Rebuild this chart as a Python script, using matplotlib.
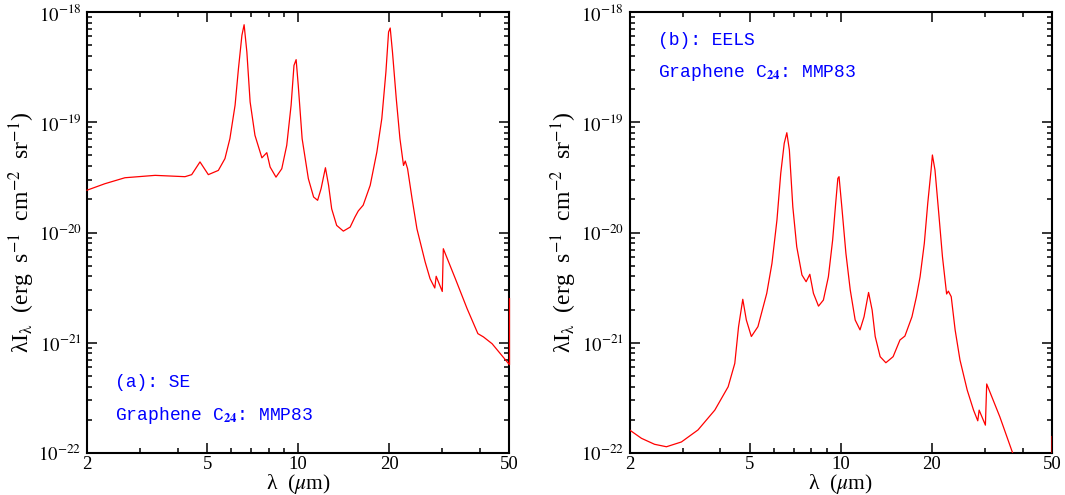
import numpy as np
import matplotlib as mpl
#headless mode
mpl.use('Agg')
import matplotlib.pyplot as plt
from matplotlib.ticker import FixedLocator, NullFormatter

plt.rcParams['mathtext.fontset'] = 'stix'
plt.rcParams['font.family'] = ['Liberation Serif', 'DejaVu Serif']

# panel (a): SE
lam_se = [2.00, 2.29, 2.67, 3.36, 4.22, 4.44, 4.73, 5.04, 5.44, 5.72,
          5.94, 6.18, 6.34, 6.51, 6.62, 6.76, 6.93, 7.19, 7.58, 7.87,
          8.07, 8.44, 8.82, 9.16, 9.47, 9.68, 9.84, 10.0, 10.3, 10.8,
          11.24, 11.59, 11.9, 12.3, 12.6, 12.9, 13.4, 14.1, 14.85, 15.4,
          15.8, 16.4, 17.3, 18.2, 18.9, 19.5, 19.9, 20.15, 20.5, 21.1,
          21.7, 22.3, 22.6, 23.0, 23.8, 24.7, 26.3, 27.3, 28.3, 28.6,
          29.96, 30.2, 33.1, 36.2, 39.3, 41.0, 43.8, 50.0, 50.0]
flux_se = [2.42e-20, 2.77e-20, 3.14e-20, 3.30e-20, 3.21e-20, 3.35e-20, 4.37e-20, 3.35e-20, 3.66e-20, 4.68e-20,
           7.10e-20, 1.43e-19, 3.06e-19, 6.15e-19, 7.67e-19, 4.34e-19, 1.53e-19, 7.62e-20, 4.76e-20, 5.30e-20,
           3.93e-20, 3.18e-20, 3.79e-20, 6.18e-20, 1.43e-19, 3.28e-19, 3.70e-19, 2.16e-19, 7.10e-20, 3.08e-20,
           2.10e-20, 1.96e-20, 2.50e-20, 3.87e-20, 2.68e-20, 1.64e-20, 1.16e-20, 1.03e-20, 1.12e-20, 1.38e-20,
           1.57e-20, 1.77e-20, 2.68e-20, 5.37e-20, 1.08e-19, 2.86e-19, 6.59e-19, 7.16e-19, 4.34e-19, 1.64e-19,
           7.10e-20, 4.06e-20, 4.45e-20, 3.79e-20, 2.03e-20, 1.08e-20, 5.40e-21, 3.81e-21, 3.14e-21, 4.01e-21,
           2.92e-21, 7.13e-21, 3.81e-21, 2.04e-21, 1.21e-21, 1.13e-21, 9.8e-22, 6.32e-22, 2.51e-21]

# panel (b): EELS
lam_eels = [2.00, 2.19, 2.42, 2.65, 2.97, 3.37, 3.83, 4.24, 4.46, 4.59,
            4.74, 4.87, 5.06, 5.32, 5.69, 5.92, 6.15, 6.33, 6.50, 6.63,
            6.76, 6.94, 7.15, 7.44, 7.68, 7.90, 8.12, 8.44, 8.76, 9.10,
            9.40, 9.62, 9.78, 9.87, 10.08, 10.4, 10.75, 11.16, 11.58, 11.94,
            12.36, 12.7, 13.0, 13.5, 14.1, 14.9, 15.7, 16.3, 17.2, 17.8,
            18.3, 18.9, 19.4, 19.9, 20.1, 20.5, 21.1, 21.7, 22.4, 22.7,
            23.2, 23.9, 24.8, 26.2, 27.5, 28.4, 28.7, 30.1, 30.4, 33.6,
            37.0, 40.0, 44.0, 50.0, 50.0]
flux_eels = [1.62e-22, 1.36e-22, 1.20e-22, 1.14e-22, 1.26e-22, 1.62e-22, 2.45e-22, 3.99e-22, 6.50e-22, 1.40e-21,
             2.48e-21, 1.61e-21, 1.14e-21, 1.40e-21, 2.81e-21, 5.25e-21, 1.30e-20, 3.44e-20, 6.44e-20, 8.04e-20,
             5.60e-20, 1.71e-20, 7.43e-21, 4.12e-21, 3.58e-21, 4.18e-21, 2.81e-21, 2.15e-21, 2.44e-21, 3.97e-21,
             8.55e-21, 1.84e-20, 3.10e-20, 3.21e-20, 1.71e-20, 6.47e-21, 3.01e-21, 1.61e-21, 1.31e-21, 1.72e-21,
             2.86e-21, 1.98e-21, 1.14e-21, 7.48e-22, 6.59e-22, 7.48e-22, 1.06e-21, 1.15e-21, 1.72e-21, 2.62e-21,
             3.97e-21, 7.98e-21, 1.84e-20, 3.69e-20, 5.05e-20, 3.69e-20, 1.49e-20, 6.04e-21, 2.77e-21, 2.94e-21,
             2.62e-21, 1.31e-21, 6.98e-22, 3.73e-22, 2.45e-22, 1.96e-22, 2.45e-22, 1.79e-22, 4.23e-22, 2.13e-22,
             1.01e-22, 5.6e-23, 4.0e-23, 2.5e-23, 1.41e-22]

xmajor = [2, 5, 10, 20, 50]
xminor = [3, 4, 6, 7, 8, 9, 30, 40]
ymajor = [1e-22, 1e-21, 1e-20, 1e-19, 1e-18]
ylabels = [r'$10^{-22}$', r'$10^{-21}$', r'$10^{-20}$', r'$10^{-19}$', r'$10^{-18}$']

fig = plt.figure(figsize=(10.65, 4.95), dpi=100)
ax_a = fig.add_axes([0.0817, 0.0848, 0.3967, 0.8909])
ax_b = fig.add_axes([0.5911, 0.0848, 0.3967, 0.8909])


def style_axis(ax):
    ax.set_xscale('log')
    ax.set_yscale('log')
    ax.set_xlim(2, 50)
    ax.set_ylim(1e-22, 1e-18)
    ax.xaxis.set_major_locator(FixedLocator(xmajor))
    ax.xaxis.set_minor_locator(FixedLocator(xminor))
    ax.set_xticklabels([str(v) for v in xmajor])
    ax.xaxis.set_minor_formatter(NullFormatter())
    ax.yaxis.set_major_locator(FixedLocator(ymajor))
    ax.set_yticklabels(ylabels)
    ax.yaxis.set_minor_locator(mpl.ticker.LogLocator(base=10, subs=np.arange(2, 10), numticks=20))
    ax.yaxis.set_minor_formatter(NullFormatter())
    ax.tick_params(which='both', direction='in', top=True, right=True, labelsize=13.5, width=1.1)
    ax.tick_params(which='major', length=7)
    ax.tick_params(axis='x', which='major', pad=2)
    ax.tick_params(axis='y', which='major', pad=4)
    ax.tick_params(which='minor', length=3.5)
    for s in ax.spines.values():
        s.set_linewidth(1.5)
    ax.set_xlabel(r'λ  ($\mu$m)', fontsize=15.5)
    ax.xaxis.set_label_coords(0.5, -0.07)
    ax.xaxis.label.set_va('center')
    ax.set_ylabel(r'λI$_{\mathrm{λ}}$  (erg  s$^{-1}$  cm$^{-2}$  sr$^{-1}$)', fontsize=17)
    ax.yaxis.set_label_coords(-0.155, 0.5)
    ax.yaxis.label.set_va('center')


style_axis(ax_a)
style_axis(ax_b)

ax_a.plot(lam_se, flux_se, color='red', lw=0.9, zorder=3, clip_on=False)
ax_b.plot(lam_eels, flux_eels, color='red', lw=0.9, zorder=3)

txt = dict(color='blue', fontsize=13, family=['Liberation Mono', 'DejaVu Sans Mono'], va='center')
ax_a.text(0.066, 0.161, '(a): SE', transform=ax_a.transAxes, **txt)
ax_a.text(0.066, 0.086, r'Graphene C$_{\mathbf{24}}$: MMP83', transform=ax_a.transAxes, **txt)
ax_b.text(0.068, 0.936, '(b): EELS', transform=ax_b.transAxes, **txt)
ax_b.text(0.068, 0.862, r'Graphene C$_{\mathbf{24}}$: MMP83', transform=ax_b.transAxes, **txt)

plt.savefig('out.png', dpi=100)
